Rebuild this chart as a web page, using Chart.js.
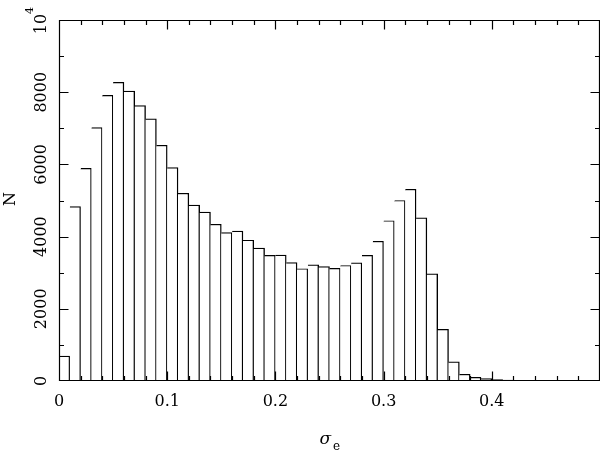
<!DOCTYPE html>
<html>
<head>
<meta charset="utf-8">
<script src="https://cdn.jsdelivr.net/npm/chart.js@4"></script>
<style>
  body { margin: 0; background: #fff; }
  canvas { display: block; }
</style>
</head>
<body>
<canvas id="histChart" width="600" height="451"></canvas>
<script>
// Histogram bins (left edge of each 0.01 wide bin)
const bins = [
  '0.00', '0.01', '0.02', '0.03', '0.04', '0.05', '0.06', '0.07', '0.08', '0.09',
  '0.10', '0.11', '0.12', '0.13', '0.14', '0.15', '0.16', '0.17', '0.18', '0.19',
  '0.20', '0.21', '0.22', '0.23', '0.24', '0.25', '0.26', '0.27', '0.28', '0.29',
  '0.30', '0.31', '0.32', '0.33', '0.34', '0.35', '0.36', '0.37', '0.38', '0.39',
  '0.40', '0.41', '0.42', '0.43', '0.44', '0.45', '0.46', '0.47', '0.48', '0.49'
];
const counts = [
  690, 4830, 5890, 7020, 7910, 8270, 8030, 7630, 7260, 6530,
  5910, 5200, 4870, 4680, 4340, 4110, 4150, 3900, 3680, 3480,
  3490, 3280, 3110, 3220, 3170, 3120, 3200, 3270, 3480, 3870,
  4440, 5000, 5310, 4520, 2970, 1430, 530, 185, 100, 65,
  36, 25, 15, 10, 8, 5, 4, 3, 2, 1
];

// Axis ticks
const xTickValues = [0, 0.1, 0.2, 0.3, 0.4];
const xTickLabels = ['0', '0.1', '0.2', '0.3', '0.4'];
const xMinorStep = 0.02;
const yTickValues = [0, 2000, 4000, 6000, 8000];
const yTickLabels = ['0', '2000', '4000', '6000', '8000'];
const yMinorStep = 1000;
const xMax = 0.5;
const yMax = 10000;

const FONT = '"DejaVu Serif", serif';

// Frame, inward ticks and labels drawn like the original plot
const frameAxes = {
  id: 'frameAxes',
  afterDraw(chart) {
    const { ctx, chartArea: a, scales } = chart;
    const xs = scales.xv, ys = scales.y;
    const L = a.left + 0.5, R = a.right - 0.5, T = a.top + 0.5, B = a.bottom - 0.5;
    ctx.save();
    ctx.strokeStyle = '#000';
    ctx.lineWidth = 1.2;
    ctx.beginPath();
    ctx.rect(L, T, R - L, B - T);

    // x ticks, bottom and top
    for (let i = 1; i * xMinorStep < xMax - 1e-9; i++) {
      const v = i * xMinorStep;
      const px = Math.round(xs.getPixelForValue(v)) + 0.5;
      ctx.moveTo(px, B); ctx.lineTo(px, B - 4.5);
      ctx.moveTo(px, T); ctx.lineTo(px, T + 4.5);
    }
    xTickValues.forEach(v => {
      if (v === 0) return;
      const px = Math.round(xs.getPixelForValue(v)) + 0.5;
      ctx.moveTo(px, B); ctx.lineTo(px, B - 9);
      ctx.moveTo(px, T); ctx.lineTo(px, T + 9);
    });

    // y ticks, left and right
    for (let v = yMinorStep; v < yMax; v += yMinorStep) {
      const py = Math.round(ys.getPixelForValue(v)) + 0.5;
      const len = v % 2000 === 0 ? 9 : 4.5;
      ctx.moveTo(L, py); ctx.lineTo(L + len, py);
      ctx.moveTo(R, py); ctx.lineTo(R - len, py);
    }
    ctx.stroke();

    // x tick labels
    ctx.fillStyle = '#000';
    ctx.font = '16px ' + FONT;
    ctx.textAlign = 'center';
    ctx.textBaseline = 'alphabetic';
    xTickValues.forEach((v, i) => {
      ctx.fillText(xTickLabels[i], xs.getPixelForValue(v), 406);
    });

    // y tick labels, rotated
    ctx.textBaseline = 'middle';
    yTickValues.forEach((v, i) => {
      ctx.save();
      ctx.translate(42, ys.getPixelForValue(v));
      ctx.rotate(-Math.PI / 2);
      ctx.fillText(yTickLabels[i], 0, 0);
      ctx.restore();
    });

    // 10^4 at top of y axis
    ctx.save();
    ctx.translate(42, ys.getPixelForValue(yMax) + 4);
    ctx.rotate(-Math.PI / 2);
    ctx.textAlign = 'center';
    ctx.fillText('10', 0, 0);
    ctx.font = '11px ' + FONT;
    ctx.textAlign = 'left';
    ctx.fillText('4', 10, -12);
    ctx.restore();

    // y axis title
    ctx.save();
    ctx.font = '16px ' + FONT;
    ctx.translate(11, 199);
    ctx.rotate(-Math.PI / 2);
    ctx.textAlign = 'center';
    ctx.fillText('N', 0, 0);
    ctx.restore();

    // x axis title: sigma_e
    ctx.font = 'italic 17px ' + FONT;
    ctx.textAlign = 'right';
    ctx.textBaseline = 'alphabetic';
    ctx.fillText('σ', 331, 444);
    ctx.font = '12px ' + FONT;
    ctx.textAlign = 'left';
    ctx.fillText('e', 333, 450);
    ctx.restore();
  }
};

const ctx = document.getElementById('histChart').getContext('2d');
const histChart = new Chart(ctx, {
  type: 'bar',
  data: {
    labels: bins,
    datasets: [{
      data: counts,
      backgroundColor: '#ffffff',
      borderColor: '#000000',
      borderWidth: { top: 1.2, right: 1.4, left: 0, bottom: 0 },
      borderSkipped: false,
      barPercentage: 1,
      categoryPercentage: 1
    }]
  },
  options: {
    responsive: false,
    animation: false,
    layout: { padding: { left: 59, right: 0, top: 20, bottom: 70 } },
    scales: {
      x: { type: 'category', display: false, offset: true },
      xv: { type: 'linear', axis: 'x', display: false, offset: false, min: 0, max: xMax },
      y: { display: false, min: 0, max: yMax }
    },
    plugins: {
      legend: { display: false },
      tooltip: { enabled: false }
    }
  },
  plugins: [frameAxes]
});
</script>
</body>
</html>
